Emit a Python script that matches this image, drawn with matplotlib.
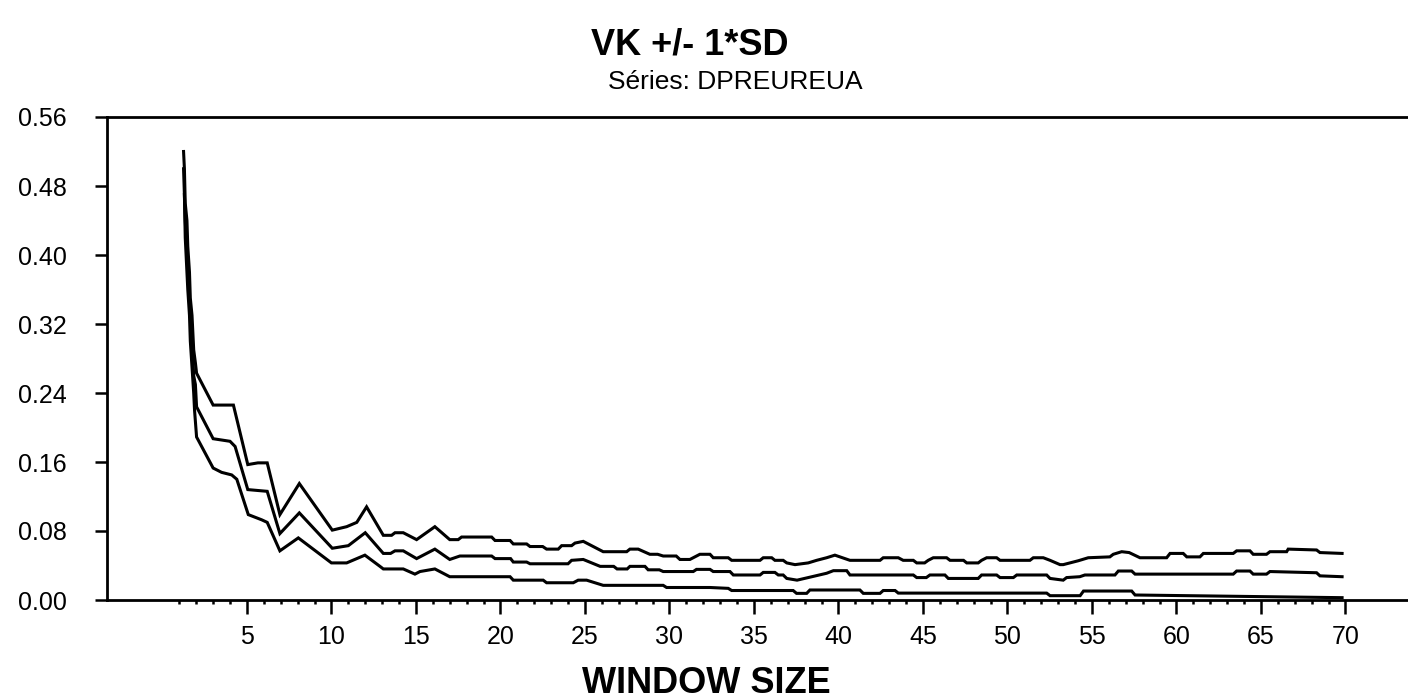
import matplotlib
matplotlib.use('Agg')
import matplotlib.pyplot as plt
from matplotlib.ticker import FixedLocator

plt.rcParams['font.family'] = ['Liberation Sans', 'DejaVu Sans']

# VK statistic +/- one standard deviation, by window size
ws_upper = [1.25, 1.3, 1.35, 1.45, 1.5, 1.6, 1.65, 1.75, 1.85, 1.95, 2.02,
            3.0, 4.2, 5.05, 5.65, 6.2, 6.95, 8.1, 10.05, 10.9, 11.5, 12.08,
            13.07, 13.56, 13.76, 14.25, 15.04, 16.12, 17.0, 17.5, 17.7, 19.48,
            19.68, 20.57, 20.76, 21.55, 21.75, 22.5, 22.73, 23.42, 23.62, 24.21,
            24.41, 24.9, 26.08, 27.47, 27.66, 28.15, 28.84, 29.3, 29.63, 30.4,
            30.62, 31.21, 31.8, 32.4, 32.59, 33.48, 33.68, 35.36, 35.55, 36.05,
            36.24, 36.73, 36.94, 37.43, 38.21, 38.71, 39.3, 39.79, 40.68, 42.46,
            42.65, 43.54, 43.83, 44.43, 44.63, 45.1, 45.31, 45.61, 46.4, 46.6,
            47.4, 47.59, 48.27, 48.47, 48.77, 49.36, 49.56, 51.33, 51.53, 52.12,
            52.52, 53.11, 53.3, 54.19, 54.78, 56.06, 56.26, 56.76, 57.2, 57.84,
            59.42, 59.62, 60.4, 60.61, 61.39, 61.59, 63.36, 63.56, 64.35, 64.54,
            65.33, 65.53, 66.52, 66.61, 68.29, 68.49, 69.8]
vk_upper = [0.52, 0.50, 0.46, 0.44, 0.41, 0.38, 0.35, 0.33, 0.29, 0.275, 0.263,
            0.226, 0.226, 0.157, 0.159, 0.159, 0.099, 0.135, 0.081, 0.085, 0.090, 0.108,
            0.075, 0.075, 0.078, 0.078, 0.070, 0.085, 0.070, 0.070, 0.073, 0.073,
            0.069, 0.069, 0.065, 0.065, 0.062, 0.062, 0.059, 0.059, 0.063, 0.063,
            0.066, 0.068, 0.056, 0.056, 0.059, 0.059, 0.053, 0.053, 0.051, 0.051,
            0.047, 0.047, 0.053, 0.053, 0.049, 0.049, 0.046, 0.046, 0.049, 0.049,
            0.046, 0.046, 0.043, 0.041, 0.043, 0.046, 0.049, 0.052, 0.046, 0.046,
            0.049, 0.049, 0.046, 0.046, 0.043, 0.043, 0.046, 0.049, 0.049, 0.046,
            0.046, 0.043, 0.043, 0.046, 0.049, 0.049, 0.046, 0.046, 0.049, 0.049,
            0.046, 0.041, 0.041, 0.0455, 0.049, 0.050, 0.053, 0.056, 0.055, 0.049,
            0.049, 0.054, 0.054, 0.050, 0.050, 0.054, 0.054, 0.057, 0.057, 0.053,
            0.053, 0.056, 0.056, 0.059, 0.058, 0.055, 0.054]

ws_mid = [1.25, 1.35, 1.4, 1.5, 1.55, 1.65, 1.7, 1.8, 1.85, 1.95, 2.02,
          3.0, 4.0, 4.3, 5.05, 6.2, 6.95, 8.1, 10.05, 11.0, 12.0,
          13.07, 13.5, 13.76, 14.25, 15.04, 16.12, 17.0, 17.6, 19.48, 19.68,
          20.6, 20.76, 21.55, 21.75, 24.0, 24.21, 24.9, 25.9, 26.7, 26.9,
          27.5, 27.66, 28.55, 28.74, 29.4, 29.63, 31.41, 31.6, 32.4, 32.59,
          33.58, 33.78, 35.36, 35.55, 36.24, 36.44, 36.73, 36.94, 37.55, 38.21,
          39.3, 39.7, 40.49, 40.68, 44.43, 44.63, 45.2, 45.41, 46.3, 46.5,
          48.27, 48.47, 49.36, 49.56, 50.35, 50.55, 52.32, 52.52, 53.3, 53.5,
          54.28, 54.58, 56.36, 56.56, 57.35, 57.55, 63.36, 63.56, 64.35, 64.54,
          65.33, 65.53, 68.29, 68.49, 69.8]
vk_mid = [0.50, 0.44, 0.42, 0.39, 0.36, 0.34, 0.31, 0.28, 0.26, 0.25, 0.224,
          0.187, 0.184, 0.178, 0.128, 0.126, 0.077, 0.101, 0.060, 0.063, 0.078,
          0.054, 0.054, 0.057, 0.057, 0.048, 0.059, 0.047, 0.051, 0.051, 0.048,
          0.048, 0.044, 0.044, 0.042, 0.042, 0.046, 0.047, 0.039, 0.039, 0.036,
          0.036, 0.039, 0.039, 0.035, 0.035, 0.033, 0.033, 0.0355, 0.0355, 0.033,
          0.033, 0.029, 0.029, 0.032, 0.032, 0.029, 0.029, 0.025, 0.023, 0.026,
          0.031, 0.034, 0.034, 0.029, 0.029, 0.026, 0.026, 0.029, 0.029, 0.025,
          0.025, 0.029, 0.029, 0.026, 0.026, 0.029, 0.029, 0.025, 0.023, 0.026,
          0.027, 0.029, 0.029, 0.0336, 0.0336, 0.030, 0.030, 0.0336, 0.0336, 0.030,
          0.030, 0.033, 0.0316, 0.028, 0.027]

ws_lower = [1.3, 1.35, 1.45, 1.5, 1.6, 1.65, 1.75, 1.85, 1.9, 2.02,
            3.0, 3.5, 4.1, 4.4, 5.08, 5.87, 6.2, 6.95, 8.04, 10.0, 10.9,
            11.98, 12.87, 13.07, 14.25, 14.94, 15.24, 16.12, 17.0, 20.57, 20.76,
            22.53, 22.73, 24.31, 24.6, 25.1, 26.08, 29.63, 29.83, 32.4, 33.48,
            33.68, 37.32, 37.52, 38.12, 38.31, 41.27, 41.47, 42.46, 42.65, 43.35,
            43.54, 52.32, 52.52, 54.3, 54.5, 57.35, 57.55, 69.8]
vk_lower = [0.47, 0.42, 0.38, 0.36, 0.33, 0.30, 0.27, 0.24, 0.22, 0.189,
            0.153, 0.148, 0.145, 0.140, 0.099, 0.093, 0.090, 0.057, 0.072, 0.043, 0.043,
            0.052, 0.039, 0.036, 0.036, 0.030, 0.033, 0.036, 0.027, 0.027, 0.023,
            0.023, 0.020, 0.020, 0.023, 0.023, 0.017, 0.017, 0.0145, 0.0145, 0.0135,
            0.011, 0.011, 0.0077, 0.0077, 0.0116, 0.0116, 0.0077, 0.0077, 0.011, 0.011,
            0.008, 0.008, 0.005, 0.005, 0.0104, 0.0104, 0.0058, 0.0027]

x_major = list(range(5, 75, 5))
x_minor = [w for w in range(1, 71) if w % 5]
y_ticks = [0.00, 0.08, 0.16, 0.24, 0.32, 0.40, 0.48, 0.56]

fig = plt.figure(figsize=(14.08, 7.0), dpi=100)
ax = fig.add_axes([107 / 1408, 100 / 700, 1301 / 1408, 483 / 700])

for ws, vk in [(ws_upper, vk_upper), (ws_mid, vk_mid), (ws_lower, vk_lower)]:
    ax.plot(ws, vk, color='black', linewidth=2.2, solid_joinstyle='miter')

ax.set_xlim(-3.28, 73.7)
ax.set_ylim(0, 0.56)

ax.xaxis.set_major_locator(FixedLocator(x_major))
ax.xaxis.set_minor_locator(FixedLocator(x_minor))
ax.set_yticks(y_ticks)
ax.set_yticklabels([f'{v:.2f}' for v in y_ticks])

ax.tick_params(axis='x', which='major', direction='out', length=10, width=1.8,
               pad=8, labelsize=18)
ax.tick_params(axis='x', which='minor', direction='out', length=3, width=1.8)
ax.tick_params(axis='y', direction='out', length=9, width=1.8, pad=20,
               labelsize=18)

for side in ['left', 'bottom', 'top']:
    ax.spines[side].set_linewidth(2.0)
ax.spines['right'].set_visible(False)

fig.text(690 / 1408, 1 - 45 / 700, 'VK +/- 1*SD', ha='center', va='center',
         fontsize=26, fontweight='bold')
fig.text(735 / 1408, 1 - 82 / 700, 'Séries: DPREUREUA', ha='center',
         va='center', fontsize=19)
ax.set_xlabel('WINDOW SIZE', fontsize=26, fontweight='bold')
ax.xaxis.set_label_coords((706 - 107) / 1301, -(666 - 600) / 483)

fig.savefig('out.png', dpi=100)
plt.close(fig)
